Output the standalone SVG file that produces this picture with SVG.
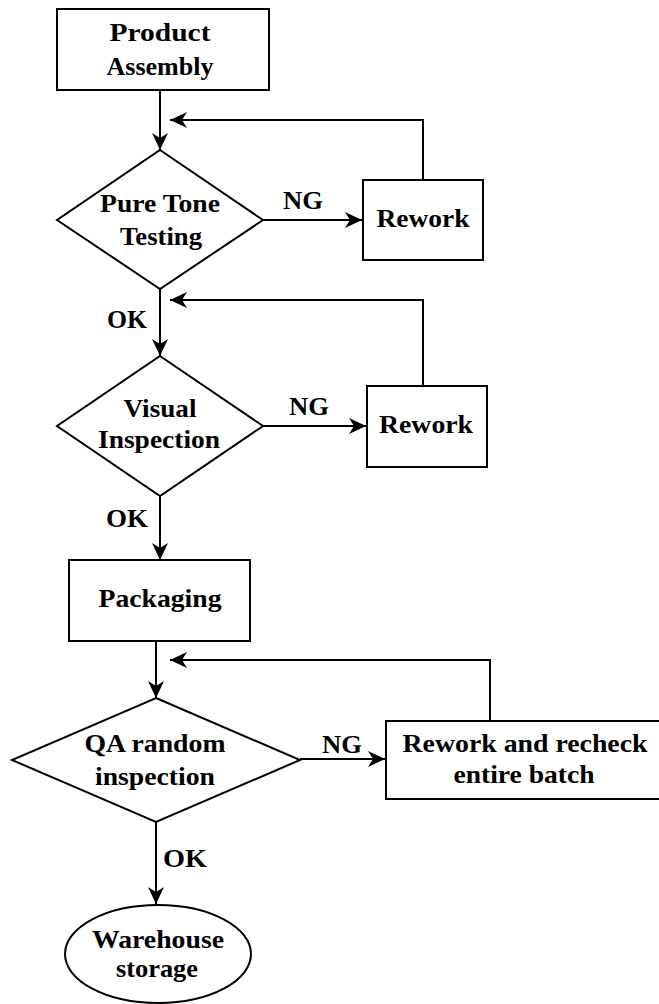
<svg xmlns="http://www.w3.org/2000/svg" width="659" height="1004" viewBox="0 0 659 1004">
<style>
.shape{fill:#fff;stroke:#000;stroke-width:2}
.conn{fill:none;stroke:#000;stroke-width:2}
text{font-family:"Liberation Serif","Times New Roman",serif;font-weight:bold;font-size:26px;fill:#000;text-anchor:middle}
</style>
<defs>
<marker id="arr" markerUnits="userSpaceOnUse" markerWidth="20" markerHeight="18" refX="17" refY="8" orient="auto">
<path d="M0,0 L17,8 L0,16 L5,8 z" fill="#000"/>
</marker>
</defs>
<rect width="659" height="1004" fill="#fff"/>
<g id="connectors">
<path class="conn" d="M160,90 V150" marker-end="url(#arr)"/>
<path class="conn" d="M423,180 V120 H170" marker-end="url(#arr)"/>
<path class="conn" d="M263,220 H362" marker-end="url(#arr)"/>
<path class="conn" d="M160,289 V356" marker-end="url(#arr)"/>
<path class="conn" d="M423,386 V300 H170" marker-end="url(#arr)"/>
<path class="conn" d="M263,426 H366" marker-end="url(#arr)"/>
<path class="conn" d="M160,496 V560" marker-end="url(#arr)"/>
<path class="conn" d="M156,641 V698" marker-end="url(#arr)"/>
<path class="conn" d="M490,721 V660 H170" marker-end="url(#arr)"/>
<path class="conn" d="M300,759 H385" marker-end="url(#arr)"/>
<path class="conn" d="M156,822 V904" marker-end="url(#arr)"/>
<text x="303" y="209" textLength="40" lengthAdjust="spacingAndGlyphs">NG</text>
<text x="127" y="328" textLength="40" lengthAdjust="spacingAndGlyphs">OK</text>
<text x="309" y="415" textLength="40" lengthAdjust="spacingAndGlyphs">NG</text>
<text x="127" y="527" textLength="42" lengthAdjust="spacingAndGlyphs">OK</text>
<text x="342" y="753" textLength="40" lengthAdjust="spacingAndGlyphs">NG</text>
<text x="185" y="867" textLength="44" lengthAdjust="spacingAndGlyphs">OK</text>
</g>
<g id="product-assembly">
<rect class="shape" x="57" y="9" width="212" height="81"/>
<text x="160" y="41" textLength="101" lengthAdjust="spacingAndGlyphs">Product</text>
<text x="160" y="75" textLength="107" lengthAdjust="spacingAndGlyphs">Assembly</text>
</g>
<g id="pure-tone-testing">
<polygon class="shape" points="160,150 263,220 160,289 57,220"/>
<text x="160" y="212" textLength="120" lengthAdjust="spacingAndGlyphs">Pure Tone</text>
<text x="161" y="245" textLength="82" lengthAdjust="spacingAndGlyphs">Testing</text>
</g>
<g id="rework-1">
<rect class="shape" x="363" y="180" width="120" height="80"/>
<text x="423" y="227" textLength="93" lengthAdjust="spacingAndGlyphs">Rework</text>
</g>
<g id="visual-inspection">
<polygon class="shape" points="160,356 263,426 160,496 57,426"/>
<text x="160" y="417" textLength="73" lengthAdjust="spacingAndGlyphs">Visual</text>
<text x="159" y="448" textLength="122" lengthAdjust="spacingAndGlyphs">Inspection</text>
</g>
<g id="rework-2">
<rect class="shape" x="367" y="386" width="120" height="81"/>
<text x="426" y="433" textLength="94" lengthAdjust="spacingAndGlyphs">Rework</text>
</g>
<g id="packaging">
<rect class="shape" x="69" y="560" width="181" height="81"/>
<text x="160" y="607" textLength="123" lengthAdjust="spacingAndGlyphs">Packaging</text>
</g>
<g id="qa-random-inspection">
<polygon class="shape" points="156,698 300,760 156,822 12,760"/>
<text x="155" y="752" textLength="141" lengthAdjust="spacingAndGlyphs">QA random</text>
<text x="155" y="785" textLength="120" lengthAdjust="spacingAndGlyphs">inspection</text>
</g>
<g id="rework-recheck">
<rect class="shape" x="386" y="721" width="280" height="78"/>
<text x="525" y="752" textLength="245" lengthAdjust="spacingAndGlyphs">Rework and recheck</text>
<text x="524" y="783" textLength="141" lengthAdjust="spacingAndGlyphs">entire batch</text>
</g>
<g id="warehouse-storage">
<ellipse class="shape" cx="158" cy="954" rx="93" ry="49"/>
<text x="158" y="948" textLength="132" lengthAdjust="spacingAndGlyphs">Warehouse</text>
<text x="157" y="977" textLength="82" lengthAdjust="spacingAndGlyphs">storage</text>
</g>
</svg>
